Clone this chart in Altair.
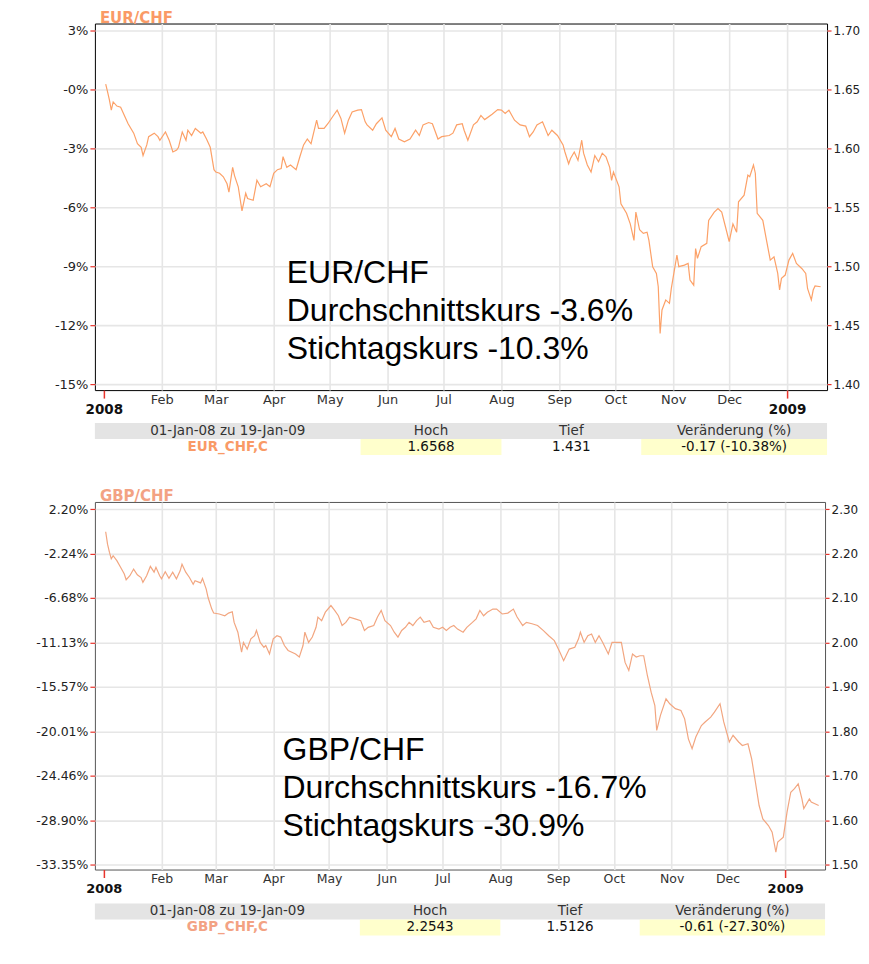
import altair as alt
import pandas as pd

# ---------------- data ----------------
EUR = [
    ("2008-01-02", 1.6545), ("2008-01-03", 1.648), ("2008-01-04", 1.641), ("2008-01-05", 1.6325),
    ("2008-01-06", 1.6395), ("2008-01-08", 1.636), ("2008-01-10", 1.635), ("2008-01-12", 1.628),
    ("2008-01-14", 1.621), ("2008-01-17", 1.613), ("2008-01-19", 1.604), ("2008-01-21", 1.601),
    ("2008-01-22", 1.594), ("2008-01-24", 1.603), ("2008-01-25", 1.610), ("2008-01-28", 1.613),
    ("2008-01-30", 1.610), ("2008-01-31", 1.607),
    ("2008-02-03", 1.614), ("2008-02-05", 1.607), ("2008-02-07", 1.597), ("2008-02-09", 1.5986),
    ("2008-02-10", 1.601), ("2008-02-12", 1.614), ("2008-02-14", 1.607), ("2008-02-15", 1.6155),
    ("2008-02-17", 1.611), ("2008-02-19", 1.617), ("2008-02-22", 1.613), ("2008-02-23", 1.614),
    ("2008-02-25", 1.608), ("2008-02-27", 1.601), ("2008-02-29", 1.582),
    ("2008-03-01", 1.580), ("2008-03-03", 1.579), ("2008-03-05", 1.576), ("2008-03-07", 1.570),
    ("2008-03-08", 1.563), ("2008-03-10", 1.584), ("2008-03-11", 1.577), ("2008-03-13", 1.5675),
    ("2008-03-15", 1.547), ("2008-03-17", 1.562), ("2008-03-18", 1.5576), ("2008-03-21", 1.556),
    ("2008-03-23", 1.573), ("2008-03-25", 1.5675), ("2008-03-28", 1.570), ("2008-03-30", 1.5675),
    ("2008-04-01", 1.579), ("2008-04-03", 1.582), ("2008-04-05", 1.583), ("2008-04-06", 1.593),
    ("2008-04-08", 1.584), ("2008-04-10", 1.586), ("2008-04-13", 1.582), ("2008-04-15", 1.593),
    ("2008-04-17", 1.603), ("2008-04-19", 1.608), ("2008-04-21", 1.604), ("2008-04-24", 1.624),
    ("2008-04-25", 1.617), ("2008-04-28", 1.617), ("2008-04-30", 1.621),
    ("2008-05-03", 1.628), ("2008-05-05", 1.6325), ("2008-05-07", 1.6255), ("2008-05-09", 1.613),
    ("2008-05-11", 1.624), ("2008-05-13", 1.631), ("2008-05-16", 1.6325), ("2008-05-18", 1.633),
    ("2008-05-20", 1.6226), ("2008-05-21", 1.620), ("2008-05-24", 1.6155), ("2008-05-26", 1.621),
    ("2008-05-29", 1.626), ("2008-05-31", 1.6155),
    ("2008-06-03", 1.610), ("2008-06-05", 1.617), ("2008-06-07", 1.608), ("2008-06-10", 1.6056),
    ("2008-06-13", 1.608), ("2008-06-16", 1.6155), ("2008-06-18", 1.611), ("2008-06-20", 1.620),
    ("2008-06-23", 1.622), ("2008-06-25", 1.621), ("2008-06-28", 1.608), ("2008-06-30", 1.610),
    ("2008-07-04", 1.611), ("2008-07-06", 1.613), ("2008-07-08", 1.620), ("2008-07-11", 1.621),
    ("2008-07-12", 1.6155), ("2008-07-14", 1.607), ("2008-07-17", 1.620), ("2008-07-19", 1.6226),
    ("2008-07-21", 1.628), ("2008-07-23", 1.6245), ("2008-07-27", 1.629), ("2008-07-30", 1.633),
    ("2008-08-01", 1.6325), ("2008-08-03", 1.6297), ("2008-08-05", 1.6325), ("2008-08-08", 1.624),
    ("2008-08-11", 1.620), ("2008-08-14", 1.619), ("2008-08-16", 1.610), ("2008-08-18", 1.614),
    ("2008-08-20", 1.620), ("2008-08-23", 1.6226), ("2008-08-26", 1.611), ("2008-08-28", 1.6155),
    ("2008-08-31", 1.611),
    ("2008-09-03", 1.603), ("2008-09-04", 1.597), ("2008-09-06", 1.587), ("2008-09-07", 1.5915),
    ("2008-09-09", 1.597), ("2008-09-11", 1.590), ("2008-09-13", 1.607), ("2008-09-14", 1.596),
    ("2008-09-16", 1.586), ("2008-09-18", 1.580), ("2008-09-20", 1.594), ("2008-09-22", 1.5887),
    ("2008-09-24", 1.596), ("2008-09-26", 1.593), ("2008-09-28", 1.584), ("2008-09-29", 1.573),
    ("2008-09-30", 1.580),
    ("2008-10-03", 1.5675), ("2008-10-04", 1.553), ("2008-10-07", 1.545), ("2008-10-09", 1.536),
    ("2008-10-11", 1.522), ("2008-10-12", 1.546), ("2008-10-14", 1.531), ("2008-10-16", 1.528),
    ("2008-10-18", 1.529), ("2008-10-19", 1.522), ("2008-10-21", 1.4997), ("2008-10-23", 1.494),
    ("2008-10-24", 1.4827), ("2008-10-25", 1.443), ("2008-10-26", 1.463), ("2008-10-28", 1.4715),
    ("2008-10-30", 1.4686), ("2008-10-31", 1.4813),
    ("2008-11-03", 1.5096), ("2008-11-04", 1.4997), ("2008-11-07", 1.501), ("2008-11-09", 1.5025),
    ("2008-11-10", 1.4884), ("2008-11-12", 1.484), ("2008-11-13", 1.515), ("2008-11-14", 1.5068),
    ("2008-11-16", 1.5167), ("2008-11-19", 1.5195), ("2008-11-20", 1.539), ("2008-11-23", 1.546),
    ("2008-11-25", 1.549), ("2008-11-27", 1.546), ("2008-11-29", 1.5336),
    ("2008-12-01", 1.521), ("2008-12-03", 1.536), ("2008-12-05", 1.529), ("2008-12-06", 1.5548),
    ("2008-12-09", 1.5604), ("2008-12-11", 1.5774), ("2008-12-12", 1.576), ("2008-12-14", 1.586),
    ("2008-12-15", 1.579), ("2008-12-16", 1.545), ("2008-12-19", 1.539), ("2008-12-21", 1.522),
    ("2008-12-23", 1.5053), ("2008-12-25", 1.508), ("2008-12-27", 1.494), ("2008-12-28", 1.4799),
    ("2008-12-29", 1.4898), ("2008-12-31", 1.4926),
    ("2009-01-02", 1.5053), ("2009-01-04", 1.511), ("2009-01-06", 1.5025), ("2009-01-09", 1.498),
    ("2009-01-11", 1.494), ("2009-01-12", 1.481), ("2009-01-14", 1.4715), ("2009-01-15", 1.4799),
    ("2009-01-16", 1.4833), ("2009-01-19", 1.4827),
]

GBP = [
    ("2008-01-02", 2.249), ("2008-01-03", 2.221), ("2008-01-04", 2.203), ("2008-01-05", 2.188),
    ("2008-01-06", 2.195), ("2008-01-08", 2.184), ("2008-01-10", 2.169), ("2008-01-12", 2.154),
    ("2008-01-13", 2.141), ("2008-01-15", 2.150), ("2008-01-17", 2.165), ("2008-01-19", 2.152),
    ("2008-01-21", 2.146), ("2008-01-22", 2.135), ("2008-01-24", 2.150), ("2008-01-26", 2.171),
    ("2008-01-28", 2.158), ("2008-01-29", 2.169), ("2008-01-31", 2.150),
    ("2008-02-01", 2.143), ("2008-02-03", 2.159), ("2008-02-05", 2.144), ("2008-02-07", 2.158),
    ("2008-02-09", 2.143), ("2008-02-11", 2.161), ("2008-02-12", 2.176), ("2008-02-14", 2.158),
    ("2008-02-16", 2.146), ("2008-02-18", 2.131), ("2008-02-19", 2.139), ("2008-02-22", 2.134),
    ("2008-02-23", 2.144), ("2008-02-25", 2.120), ("2008-02-26", 2.101), ("2008-02-28", 2.075),
    ("2008-02-29", 2.066),
    ("2008-03-03", 2.064), ("2008-03-06", 2.060), ("2008-03-08", 2.066), ("2008-03-10", 2.069),
    ("2008-03-11", 2.045), ("2008-03-13", 2.023), ("2008-03-15", 1.978), ("2008-03-16", 2.000),
    ("2008-03-18", 1.985), ("2008-03-20", 2.008), ("2008-03-22", 2.015), ("2008-03-23", 2.027),
    ("2008-03-25", 2.000), ("2008-03-27", 1.989), ("2008-03-28", 1.993), ("2008-03-30", 1.974),
    ("2008-04-01", 2.008), ("2008-04-03", 2.015), ("2008-04-05", 2.012), ("2008-04-07", 1.993),
    ("2008-04-09", 1.982), ("2008-04-11", 1.978), ("2008-04-13", 1.974), ("2008-04-15", 1.967),
    ("2008-04-17", 1.993), ("2008-04-18", 2.023), ("2008-04-20", 2.000), ("2008-04-22", 2.012),
    ("2008-04-24", 2.034), ("2008-04-25", 2.057), ("2008-04-27", 2.049), ("2008-04-29", 2.068),
    ("2008-05-02", 2.083), ("2008-05-04", 2.072), ("2008-05-06", 2.060), ("2008-05-08", 2.038),
    ("2008-05-10", 2.045), ("2008-05-12", 2.057), ("2008-05-15", 2.053), ("2008-05-18", 2.049),
    ("2008-05-20", 2.027), ("2008-05-22", 2.034), ("2008-05-25", 2.038), ("2008-05-27", 2.057),
    ("2008-05-29", 2.072), ("2008-05-31", 2.049),
    ("2008-06-03", 2.038), ("2008-06-05", 2.023), ("2008-06-07", 2.012), ("2008-06-09", 2.027),
    ("2008-06-11", 2.034), ("2008-06-13", 2.045), ("2008-06-15", 2.038), ("2008-06-17", 2.049),
    ("2008-06-19", 2.057), ("2008-06-21", 2.045), ("2008-06-24", 2.049), ("2008-06-26", 2.034),
    ("2008-06-29", 2.030),
    ("2008-07-01", 2.034), ("2008-07-03", 2.027), ("2008-07-05", 2.034), ("2008-07-07", 2.038),
    ("2008-07-09", 2.030), ("2008-07-12", 2.023), ("2008-07-14", 2.034), ("2008-07-17", 2.045),
    ("2008-07-19", 2.053), ("2008-07-21", 2.072), ("2008-07-23", 2.060), ("2008-07-25", 2.068),
    ("2008-07-28", 2.075), ("2008-07-30", 2.075),
    ("2008-08-02", 2.064), ("2008-08-05", 2.066), ("2008-08-08", 2.075), ("2008-08-10", 2.057),
    ("2008-08-13", 2.038), ("2008-08-15", 2.045), ("2008-08-18", 2.042), ("2008-08-21", 2.038),
    ("2008-08-24", 2.027), ("2008-08-27", 2.015), ("2008-08-30", 2.004),
    ("2008-09-02", 1.978), ("2008-09-04", 1.959), ("2008-09-07", 1.985), ("2008-09-10", 1.989),
    ("2008-09-12", 2.008), ("2008-09-13", 2.023), ("2008-09-15", 2.000), ("2008-09-17", 2.015),
    ("2008-09-19", 2.019), ("2008-09-21", 2.000), ("2008-09-23", 2.015), ("2008-09-25", 2.000),
    ("2008-09-28", 1.974), ("2008-09-30", 2.000),
    ("2008-10-02", 2.000), ("2008-10-05", 2.000), ("2008-10-07", 1.955), ("2008-10-09", 1.937),
    ("2008-10-11", 1.974), ("2008-10-13", 1.967), ("2008-10-15", 1.970), ("2008-10-17", 1.970),
    ("2008-10-19", 1.925), ("2008-10-21", 1.888), ("2008-10-23", 1.858), ("2008-10-24", 1.802),
    ("2008-10-26", 1.836), ("2008-10-29", 1.873), ("2008-10-31", 1.862),
    ("2008-11-03", 1.851), ("2008-11-06", 1.847), ("2008-11-08", 1.828), ("2008-11-10", 1.783),
    ("2008-11-12", 1.761), ("2008-11-14", 1.787), ("2008-11-17", 1.813), ("2008-11-19", 1.821),
    ("2008-11-22", 1.832), ("2008-11-24", 1.843), ("2008-11-27", 1.862), ("2008-11-29", 1.821),
    ("2008-12-02", 1.776), ("2008-12-04", 1.791), ("2008-12-07", 1.776), ("2008-12-09", 1.768),
    ("2008-12-12", 1.772), ("2008-12-14", 1.738), ("2008-12-16", 1.686), ("2008-12-18", 1.633),
    ("2008-12-20", 1.603), ("2008-12-23", 1.588), ("2008-12-25", 1.573), ("2008-12-27", 1.528),
    ("2008-12-28", 1.551), ("2008-12-31", 1.562),
    ("2009-01-02", 1.618), ("2009-01-04", 1.663), ("2009-01-06", 1.671), ("2009-01-08", 1.682),
    ("2009-01-10", 1.648), ("2009-01-11", 1.626), ("2009-01-14", 1.648), ("2009-01-15", 1.641),
    ("2009-01-19", 1.633),
]

MONTH_LABELS = ["", "Feb", "Mar", "Apr", "May", "Jun", "Jul", "Aug", "Sep", "Oct", "Nov", "Dec"]
YEAR_LABELS = ["2008", "2009"]

EUR_TICKS = [1.40, 1.45, 1.50, 1.55, 1.60, 1.65, 1.70]
EUR_PCT = ["-15%", "-12%", "-9%", "-6%", "-3%", "-0%", "3%"]
GBP_TICKS = [1.5, 1.6, 1.7, 1.8, 1.9, 2.0, 2.1, 2.2, 2.3]
GBP_PCT = ["-33.35%", "-28.90%", "-24.46%", "-20.01%", "-15.57%", "-11.13%", "-6.68%", "-2.24%", "2.20%"]

EUR_NOTE = "EUR/CHF\nDurchschnittskurs -3.6%\nStichtagskurs -10.3%"
GBP_NOTE = "GBP/CHF\nDurchschnittskurs -16.7%\nStichtagskurs -30.9%"

EUR_HEAD = ["01-Jan-08 zu 19-Jan-09", "Hoch", "Tief", "Veränderung (%)"]
EUR_VALS = ["EUR_CHF,C", "1.6568", "1.431", "-0.17 (-10.38%)"]
GBP_HEAD = ["01-Jan-08 zu 19-Jan-09", "Hoch", "Tief", "Veränderung (%)"]
GBP_VALS = ["GBP_CHF,C", "2.2543", "1.5126", "-0.61 (-27.30%)"]

# ---------------- layout / style ----------------
X_DOMAIN = [alt.DateTime(year=2007, month=12, date=27, hours=5, utc=True),
            alt.DateTime(year=2009, month=1, date=22, hours=10, utc=True)]
MONTH_TICKS = [alt.DateTime(year=2008, month=m, date=1, utc=True) for m in range(2, 13)] + \
              [alt.DateTime(year=2009, month=1, date=1, utc=True)]
YEAR_TICKS = [alt.DateTime(year=2008, month=1, date=1, utc=True),
              alt.DateTime(year=2009, month=1, date=1, utc=True)]
COL_EDGES = [0.0, 0.3629, 0.5553, 0.7462, 1.0]
ROW_H = 16
GRID = "#e6e6e6"
RED = "#e8342c"
LABEL_FONT = "DejaVu Sans"


def js_list(items):
    return "[" + ",".join("'" + s + "'" for s in items) + "]"


def panel(title, title_color, series, line_color, y_dom, ticks, pct, note, note_at,
          frame_color, lab_size, width, height):
    df = pd.DataFrame(series, columns=["date", "rate"])
    note_df = pd.DataFrame({"date": [note_at[0]], "rate": [note_at[1]], "text": [note]})
    xs = alt.Scale(type="utc", domain=X_DOMAIN, nice=False)
    ys = alt.Scale(domain=y_dom, nice=False, zero=False)
    step = round(ticks[1] - ticks[0], 4)
    pct_expr = js_list(pct) + f"[round((datum.value - {ticks[0]}) / {step})]"
    month_expr = js_list(MONTH_LABELS) + "[utcmonth(datum.value)]"
    year_expr = js_list(YEAR_LABELS) + "[utcyear(datum.value) - 2008]"

    line = alt.Chart(df).mark_line(color=line_color, strokeWidth=1.2).encode(
        x=alt.X("date:T", scale=xs, axis=alt.Axis(
            orient="bottom", values=MONTH_TICKS, labelExpr=month_expr, title=None,
            grid=True, gridColor=GRID, gridWidth=1.6, ticks=False, tickSize=0, domain=False,
            labelPadding=9, labelBaseline="middle", labelFontSize=lab_size, labelColor="#333",
            labelFont=LABEL_FONT, labelOverlap=False, labelFlush=False)),
        y=alt.Y("rate:Q", scale=ys, axis=alt.Axis(
            orient="left", values=ticks, labelExpr=pct_expr, title=None,
            grid=True, gridColor=GRID, gridWidth=1.6, tickColor=RED, tickSize=5, tickWidth=1.2,
            domain=False, labelPadding=2, labelFontSize=lab_size, labelColor="#222",
            labelFont=LABEL_FONT, labelOverlap=False, labelFlush=False)),
    )
    text = alt.Chart(note_df).mark_text(
        align="left", baseline="alphabetic", font="Liberation Sans", fontSize=32,
        lineHeight=38, lineBreak="\n", color="#000"
    ).encode(
        x=alt.X("date:T", scale=xs, axis=alt.Axis(
            orient="bottom", values=YEAR_TICKS, labelExpr=year_expr, title=None,
            grid=False, tickColor=RED, tickSize=8, tickWidth=1.5, domain=False,
            labelPadding=11, labelBaseline="middle", labelFontSize=lab_size + 0.5,
            labelFontWeight="bold", labelColor="#111", labelFont=LABEL_FONT,
            labelOverlap=False, labelFlush=False)),
        y=alt.Y("rate:Q", scale=ys, axis=alt.Axis(
            orient="right", values=ticks, format=".2f", title=None, grid=False,
            tickColor=RED, tickSize=4, tickWidth=1.2, domain=False, labelPadding=2,
            labelFontSize=min(lab_size - 0.5, 12), labelColor="#222", labelFont=LABEL_FONT,
            labelOverlap=False, labelFlush=False)),
        text="text:N",
    )
    return alt.layer(line, text).resolve_axis(x="independent", y="independent").properties(
        width=width, height=height,
        title=alt.TitleParams(text=title, anchor="start", frame="group", fontSize=15,
                              fontWeight="bold", font=LABEL_FONT, color=title_color,
                              offset=-2, dx=5),
        view=alt.ViewBackground(stroke=frame_color, strokeWidth=1),
    )


def table(head, vals, accent, width, height):
    units = height / ROW_H
    xs = alt.Scale(domain=[0, 1], nice=False, zero=False)
    ys = alt.Scale(domain=[0, units], nice=False, zero=False, reverse=True)
    centers = [(COL_EDGES[i] + COL_EDGES[i + 1]) / 2 for i in range(4)]
    band = pd.DataFrame({"x0": [0.0], "x1": [1.0], "y0": [0.0], "y1": [1.0]})
    yellow = pd.DataFrame({"x0": [COL_EDGES[1], COL_EDGES[3]], "x1": [COL_EDGES[2], COL_EDGES[4]],
                           "y0": [1.0, 1.0], "y1": [2.0, 2.0]})
    head_df = pd.DataFrame({"x": centers, "y": [0.5] * 4, "t": head})
    val_df = pd.DataFrame({"x": centers[1:], "y": [1.5] * 3, "t": vals[1:]})
    lab_df = pd.DataFrame({"x": centers[:1], "y": [1.5], "t": vals[:1]})

    def rect(df, color):
        return alt.Chart(df).mark_rect(color=color).encode(
            x=alt.X("x0:Q", scale=xs, axis=None), x2="x1",
            y=alt.Y("y0:Q", scale=ys, axis=None), y2="y1")

    def txt(df, color, weight):
        return alt.Chart(df).mark_text(font=LABEL_FONT, fontSize=13.5, color=color,
                                       fontWeight=weight, baseline="middle").encode(
            x=alt.X("x:Q", scale=xs, axis=None),
            y=alt.Y("y:Q", scale=ys, axis=None), text="t:N")

    return alt.layer(
        rect(band, "#e4e4e4"), rect(yellow, "#ffffcc"),
        txt(head_df, "#333", "normal"), txt(val_df, "#111", "normal"), txt(lab_df, accent, "bold"),
    ).properties(width=width, height=height,
                 view=alt.ViewBackground(stroke="transparent", strokeWidth=0))


p1 = panel("EUR/CHF", "#fa9a66", EUR, "#fca168", [1.395, 1.706], EUR_TICKS, EUR_PCT,
           EUR_NOTE, ("2008-04-08", 1.4857), "#000000", 13, 733, 367)
t1 = table(EUR_HEAD, EUR_VALS, "#f99a66", 733, 58)
p2 = panel("GBP/CHF", "#f3a283", GBP, "#f2a680", [1.489, 2.316], GBP_TICKS, GBP_PCT,
           GBP_NOTE, ("2008-04-06", 1.7344), "#555555", 12.5, 731, 368)
t2 = table(GBP_HEAD, GBP_VALS, "#f3a283", 731, 34)

chart = alt.vconcat(p1, t1, p2, t2, spacing=7).properties(
    padding={"left": 27, "top": 1, "right": 0, "bottom": 0},
    background="white",
).configure_view(stroke="#000000")

chart.save("out.html", embed_options={"renderer": "svg", "actions": False})
